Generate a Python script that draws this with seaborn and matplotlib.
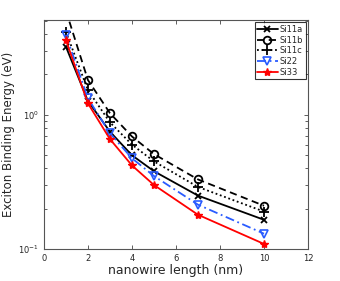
import matplotlib
matplotlib.use("Agg")
import matplotlib.pyplot as plt
import seaborn as sns
import pandas as pd
import numpy as np

length = [1, 2, 3, 4, 5, 7, 10]
si11a = [3.23, 1.27, 0.75, 0.50, 0.38, 0.25, 0.165]
si11b = [6.0, 1.82, 1.03, 0.69, 0.51, 0.33, 0.21]
si11c = [4.17, 1.53, 0.88, 0.60, 0.45, 0.29, 0.19]
si22 = [3.94, 1.33, 0.73, 0.475, 0.35, 0.214, 0.13]
si33 = [3.62, 1.22, 0.66, 0.42, 0.30, 0.18, 0.109]
names = ["Si11a", "Si11b", "Si11c", "Si22", "Si33"]

sns.set_style("ticks")
plt.rcParams['font.family'] = ['DejaVu Sans']

fig = plt.figure(figsize=(3.4, 2.81), dpi=100)
ax = fig.add_axes([0.129, 0.114, 0.777, 0.815])

styles = {
    "Si11a": dict(color="black", ls="-", marker="x", mfc="none", ms=4.5, mew=1.3),
    "Si11b": dict(color="black", ls=(0, (4, 2.5)), marker="o", mfc="none", ms=5.5, mew=1.3),
    "Si11c": dict(color="black", ls=(0, (1, 1.5)), marker="+", mfc="none", ms=6.5, mew=1.3),
    "Si22": dict(color="#2a5cff", ls=(0, (5, 2, 1, 2)), marker="v", mfc="none", ms=5.5, mew=1.2),
    "Si33": dict(color="red", ls="-", marker="*", mfc="red", ms=6, mew=1.0),
}
data = dict(zip(names, [si11a, si11b, si11c, si22, si33]))
for n in names:
    df = pd.DataFrame({"x": length, "y": data[n]})
    st = styles[n]
    sns.lineplot(data=df, x="x", y="y", ax=ax, color=st["color"], linestyle=st["ls"],
                 marker=st["marker"], markerfacecolor=st["mfc"], markeredgecolor=st["color"],
                 markersize=st["ms"], markeredgewidth=st["mew"], lw=1.3, label=n)

ax.set_yscale("log")
ax.set_xlim(0, 12)
ax.set_ylim(0.1, 5.1)
ax.set_xticks([0, 2, 4, 6, 8, 10, 12])
ax.set_yticks([0.1, 1])
ax.tick_params(axis="both", which="both", direction="in", top=True, right=True,
               labelsize=6, length=3, width=0.6, color="#444444")
ax.tick_params(which="minor", length=2)
for s in ax.spines.values():
    s.set_linewidth(0.8)
    s.set_color("#555555")
ax.set_xlabel("nanowire length (nm)", fontsize=9, labelpad=1)
ax.set_ylabel("Exciton Binding Energy (eV)", fontsize=8.5, labelpad=2)
leg = ax.legend(loc="upper right", fontsize=6, frameon=True, fancybox=False,
                edgecolor="black", handlelength=2.5, borderpad=0.3, labelspacing=0.2,
                handletextpad=0.2, borderaxespad=0.3)
leg.get_frame().set_linewidth(0.8)
fig.savefig("out.png", dpi=100)
